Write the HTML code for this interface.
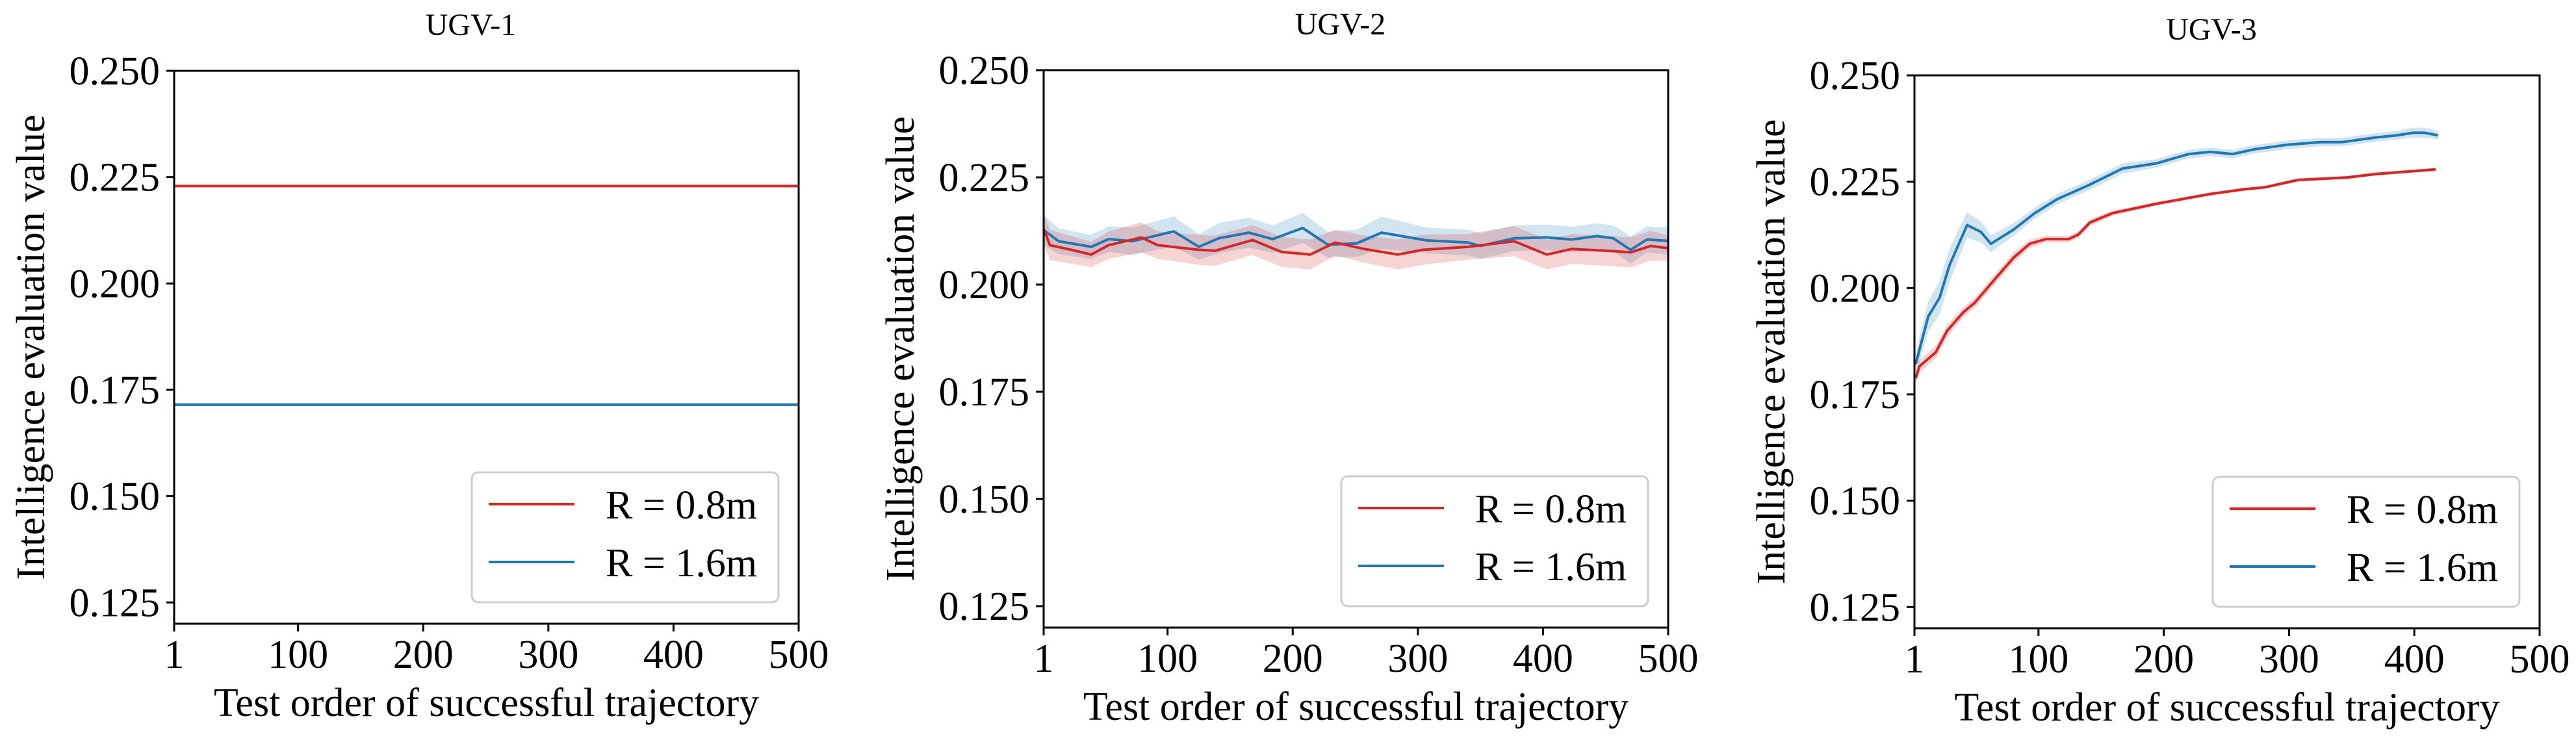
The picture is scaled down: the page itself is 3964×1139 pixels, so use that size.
<!DOCTYPE html>
<html><head><meta charset="utf-8">
<style>
html,body{margin:0;padding:0;background:#fff;}
svg{display:block;}
svg text{font-family:"Liberation Serif","DejaVu Serif",serif;}
</style></head>
<body>
<svg id="fig" width="3964" height="1139" viewBox="0 0 3964 1139" xmlns="http://www.w3.org/2000/svg" font-family="Liberation Serif, serif">
</svg>
<script>
// ---- data ----
const xTicks = [1,100,200,300,400,500];
const yTicks = [0.125,0.150,0.175,0.200,0.225,0.250];
const yTickLabels = ["0.125","0.150","0.175","0.200","0.225","0.250"];
const panelTitles = ["UGV-1","UGV-2","UGV-3"];
const legendLabels = ["R = 0.8m","R = 1.6m"];

// UGV-1
const u1RedX = [1,500];
const u1RedY = [0.2229,0.2229];
const u1BlueX = [1,500];
const u1BlueY = [0.1715,0.1715];

// UGV-2
const u2BlueX = [1,13,39,53,72,105,125,141,165,184,208,228,251,271,297,307,340,350,377,403,423,443,456,470,483,500];
const u2BlueY = [0.2127,0.2101,0.2088,0.2106,0.2101,0.2124,0.2088,0.2108,0.2121,0.2106,0.2132,0.2093,0.2096,0.2121,0.2108,0.2103,0.2098,0.2090,0.2108,0.2110,0.2105,0.2113,0.2108,0.2081,0.2105,0.2102];
const u2BlueBand = [0.0035,0.0030,0.0028,0.0030,0.0032,0.0035,0.0030,0.0035,0.0035,0.0032,0.0035,0.0030,0.0032,0.0038,0.0032,0.0030,0.0030,0.0030,0.0030,0.0030,0.0030,0.0030,0.0030,0.0032,0.0030,0.0032];
const u2RedX = [1,6,23,39,53,79,92,125,138,168,191,214,234,257,284,304,340,377,403,423,456,470,486,500];
const u2RedY = [0.2130,0.2092,0.2081,0.2070,0.2092,0.2110,0.2092,0.2081,0.2079,0.2104,0.2076,0.2070,0.2098,0.2083,0.2070,0.2081,0.2088,0.2101,0.2070,0.2083,0.2078,0.2075,0.2090,0.2085];
const u2RedBand = [0.0040,0.0035,0.0032,0.0030,0.0032,0.0035,0.0032,0.0035,0.0035,0.0035,0.0035,0.0035,0.0030,0.0032,0.0035,0.0035,0.0030,0.0035,0.0035,0.0035,0.0035,0.0035,0.0035,0.0030];

// UGV-3
const u3BlueX = [2,5,12,21,29,43,54,62,80,97,115,141,167,194,220,237,255,272,299,325,342,369,386,399,408,419];
const u3BlueY = [0.1821,0.1855,0.1933,0.1977,0.2054,0.2148,0.2132,0.2104,0.2137,0.2176,0.2209,0.2243,0.2281,0.2293,0.2315,0.2320,0.2315,0.2326,0.2337,0.2343,0.2343,0.2354,0.2359,0.2365,0.2365,0.2359];
const u3BlueBand = [0.0020,0.0030,0.0035,0.0040,0.0040,0.0030,0.0025,0.0020,0.0015,0.0013,0.0012,0.0012,0.0012,0.0010,0.0010,0.0010,0.0010,0.0010,0.0010,0.0010,0.0010,0.0010,0.0010,0.0012,0.0012,0.0010];
const u3RedX = [2,5,18,27,40,49,62,80,93,106,124,132,141,159,194,237,264,281,307,347,369,417];
const u3RedY = [0.1788,0.1816,0.1849,0.1899,0.1943,0.1965,0.2010,0.2071,0.2104,0.2115,0.2115,0.2126,0.2154,0.2176,0.2198,0.2221,0.2232,0.2237,0.2254,0.2260,0.2268,0.2279];
const u3RedBand = [0.0015,0.0015,0.0015,0.0015,0.0012,0.0012,0.0012,0.0012,0.0010,0.0008,0.0008,0.0008,0.0008,0.0006,0.0005,0.0004,0.0004,0.0004,0.0004,0.0004,0.0004,0.0004];

// ---- layout ----
const RED = "#d62728", BLUE = "#1f77b4";
const FONT = "'Liberation Serif', 'DejaVu Serif', serif";
const panels = [
  {L:268, R:1229, T:109, B:960, name:"ugv-1"},
  {L:1606,R:2567, T:108, B:966, name:"ugv-2"},
  {L:2946,R:3908, T:116, B:967, name:"ugv-3"}
];
const XMIN=1, XMAX=500, YMIN=0.12, YMAX=0.25;
const NS="http://www.w3.org/2000/svg";
const svg=document.getElementById('fig');
function mk(tag, attrs, parent){
  const e=document.createElementNS(NS,tag);
  for(const k in attrs) e.setAttribute(k,attrs[k]);
  if(tag==='text'){ e.setAttribute('font-family',FONT); e.style.fontFamily=FONT; }
  (parent||svg).appendChild(e);
  return e;
}
function xs(p,v){return p.L+(v-XMIN)/(XMAX-XMIN)*(p.R-p.L);}
function ys(p,v){return p.B-(v-YMIN)/(YMAX-YMIN)*(p.B-p.T);}

function drawBand(g,p,X,Y,W,color,nm){
  let pts=[];
  for(let i=0;i<X.length;i++) pts.push(xs(p,X[i]).toFixed(1)+","+ys(p,Y[i]+W[i]).toFixed(1));
  for(let i=X.length-1;i>=0;i--) pts.push(xs(p,X[i]).toFixed(1)+","+ys(p,Y[i]-W[i]).toFixed(1));
  const e=mk('polygon',{points:pts.join(' '),fill:color,'fill-opacity':0.2,stroke:'none'},g);
  
  
}
function drawLine(g,p,X,Y,color,nm){
  const pts=X.map((x,i)=>xs(p,x).toFixed(1)+","+ys(p,Y[i]).toFixed(1)).join(' ');
  const e=mk('polyline',{points:pts,fill:'none',stroke:color,'stroke-width':4,'stroke-linejoin':'round'},g);
  
  
}

panels.forEach((p,pi)=>{
  const g=mk('g',{});
  
  
  const t=mk('text',{x:(p.L+p.R)/2-24,y:p.T-55,'font-size':48,'text-anchor':'middle'},g);
  t.textContent=panelTitles[pi];
  
  
  if(pi===0){
    drawLine(g,p,u1RedX,u1RedY,RED,'line-r-0-8m');
    drawLine(g,p,u1BlueX,u1BlueY,BLUE,'line-r-1-6m');
  } else if(pi===1){
    drawBand(g,p,u2BlueX,u2BlueY,u2BlueBand,BLUE,'band-r-1-6m');
    drawBand(g,p,u2RedX,u2RedY,u2RedBand,RED,'band-r-0-8m');
    drawLine(g,p,u2BlueX,u2BlueY,BLUE,'line-r-1-6m');
    drawLine(g,p,u2RedX,u2RedY,RED,'line-r-0-8m');
  } else {
    drawBand(g,p,u3BlueX,u3BlueY,u3BlueBand,BLUE,'band-r-1-6m');
    drawBand(g,p,u3RedX,u3RedY,u3RedBand,RED,'band-r-0-8m');
    drawLine(g,p,u3BlueX,u3BlueY,BLUE,'line-r-1-6m');
    drawLine(g,p,u3RedX,u3RedY,RED,'line-r-0-8m');
  }
  const fr=mk('rect',{x:p.L,y:p.T,width:p.R-p.L,height:p.B-p.T,fill:'none',stroke:'#000','stroke-width':3},g);
  
  
  yTicks.forEach((v,i)=>{
    const y=ys(p,v);
    const tk=mk('line',{x1:p.L-12,x2:p.L,y1:y,y2:y,stroke:'#000','stroke-width':3},g);
    
    
    const lb=mk('text',{x:p.L-22,y:y+21,'font-size':62,'text-anchor':'end'},g);
    lb.textContent=yTickLabels[i];
    
    
  });
  xTicks.forEach(v=>{
    const x=xs(p,v);
    const tk=mk('line',{x1:x,x2:x,y1:p.B,y2:p.B+12,stroke:'#000','stroke-width':3},g);
    
    
    const lb=mk('text',{x:x,y:p.B+68,'font-size':62,'text-anchor':'middle'},g);
    lb.textContent=String(v);
    
    
  });
  const xt=mk('text',{x:(p.L+p.R)/2,y:p.B+142,'font-size':62,'text-anchor':'middle'},g);
  xt.textContent='Test order of successful trajectory';
  
  
  const cy=(p.T+p.B)/2, cx=p.L-200;
  const yt=mk('text',{x:cx,y:cy,'font-size':62,'text-anchor':'middle',transform:'rotate(-90 '+cx+' '+cy+')'},g);
  yt.textContent='Intelligence evaluation value';
  
  
  const lg=mk('g',{},g);
  
  
  const bx=p.R-31-472, by=p.B-33-200;
  mk('rect',{x:bx,y:by,width:472,height:200,rx:10,fill:'#fff','fill-opacity':0.8,stroke:'#ccc','stroke-width':3},lg);
  [RED,BLUE].forEach((c,i)=>{
    const ly=by+49+i*89;
    const ent=mk('g',{},lg);
    
    
    mk('line',{x1:bx+26,x2:bx+158,y1:ly,y2:ly,stroke:c,'stroke-width':4},ent);
    const tx=mk('text',{x:bx+206,y:ly+22,'font-size':62},ent);
    tx.textContent=legendLabels[i];
  });
});
</script>
</body></html>
